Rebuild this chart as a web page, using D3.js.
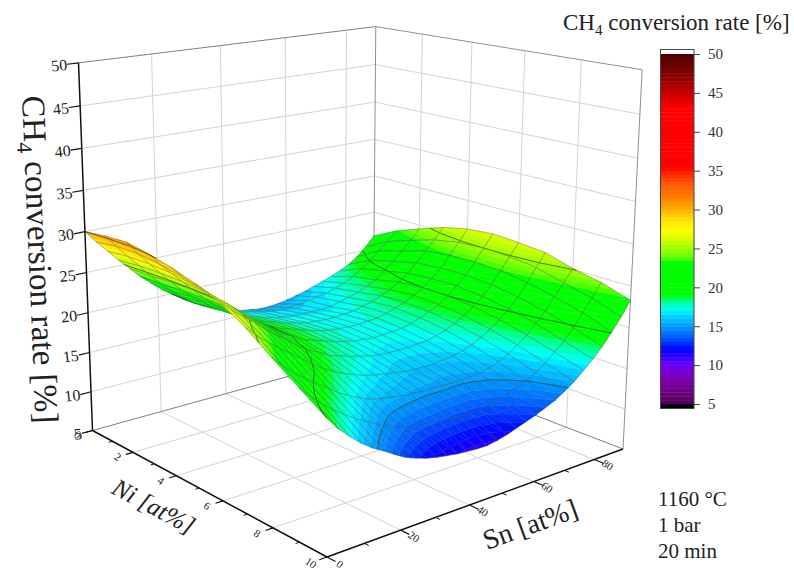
<!DOCTYPE html>
<html>
<head>
<meta charset="utf-8">
<script src="https://cdn.jsdelivr.net/npm/d3@7"></script>
<style>
body { margin: 0; background: #fff; }
text { font-family: "Liberation Serif", serif; fill: #222; }
</style>
</head>
<body>
<script>
// composition axis values
var niValues = [0, 1, 2, 3, 4, 5, 6, 7, 8, 9, 10];
var snValues = [0, 3, 6, 9, 12, 15, 18, 21, 24, 27, 30, 33, 36, 39, 42, 45, 48, 51, 54, 57, 60, 63, 66, 69, 72, 75, 78, 81, 84, 87, 90];

// CH4 conversion rate, one row per Ni value, one column per Sn value
var conversion = [
  [30.0, 28.5, 27.1, 25.7, 24.4, 23.1, 22.0, 20.9, 20.0, 19.1, 18.3, 17.6, 17.0, 16.5, 16.1, 15.7, 15.5, 15.3, 15.3, 15.4, 15.6, 15.9, 16.2, 16.6, 17.0, 17.4, 17.9, 18.5, 19.3, 20.4, 21.7],
  [30.4, 28.9, 27.4, 26.0, 24.5, 23.2, 22.0, 21.0, 20.0, 19.3, 18.6, 18.1, 17.6, 17.2, 16.9, 16.6, 16.4, 16.3, 16.3, 16.4, 16.6, 16.8, 17.0, 17.4, 17.8, 18.4, 19.2, 20.1, 21.1, 22.1, 23.3],
  [30.6, 29.0, 27.5, 26.1, 24.7, 23.4, 22.3, 21.3, 20.4, 19.7, 19.0, 18.4, 18.0, 17.6, 17.3, 17.0, 16.9, 16.9, 16.8, 16.8, 16.9, 17.2, 17.5, 17.9, 18.4, 19.0, 19.9, 20.9, 22.0, 23.2, 24.5],
  [30.2, 28.7, 27.4, 26.1, 24.8, 23.5, 22.4, 21.4, 20.5, 19.9, 19.2, 18.8, 18.4, 18.0, 17.7, 17.4, 17.3, 17.2, 17.2, 17.3, 17.4, 17.7, 18.0, 18.5, 19.0, 19.7, 20.6, 21.7, 23.0, 24.2, 25.6],
  [29.6, 28.2, 27.0, 25.9, 24.7, 23.5, 22.6, 21.5, 20.6, 20.0, 19.4, 19.0, 18.6, 18.2, 17.9, 17.6, 17.5, 17.4, 17.4, 17.5, 17.6, 17.9, 18.3, 18.7, 19.3, 20.0, 20.9, 22.0, 23.4, 24.8, 26.3],
  [28.8, 27.6, 26.5, 25.5, 24.4, 23.3, 22.4, 21.4, 20.5, 19.9, 19.2, 18.8, 18.4, 18.0, 17.7, 17.4, 17.3, 17.2, 17.2, 17.3, 17.4, 17.7, 18.1, 18.6, 19.2, 20.0, 21.0, 22.1, 23.5, 25.0, 26.6],
  [27.8, 26.6, 25.6, 24.6, 23.5, 22.5, 21.6, 20.6, 19.8, 19.2, 18.5, 18.1, 17.7, 17.4, 17.1, 16.9, 16.8, 16.8, 16.8, 16.9, 17.0, 17.3, 17.7, 18.2, 18.9, 19.7, 20.7, 21.9, 23.4, 24.9, 26.4],
  [26.1, 24.9, 23.8, 22.8, 21.9, 21.0, 20.0, 19.2, 18.5, 17.9, 17.4, 17.0, 16.7, 16.5, 16.3, 16.1, 16.0, 16.0, 16.0, 16.1, 16.3, 16.6, 17.0, 17.6, 18.3, 19.2, 20.2, 21.4, 22.9, 24.5, 26.1],
  [24.0, 22.7, 21.6, 20.6, 19.7, 18.9, 18.0, 17.3, 16.7, 16.2, 15.9, 15.7, 15.5, 15.4, 15.3, 15.3, 15.3, 15.2, 15.2, 15.3, 15.4, 15.7, 16.1, 16.7, 17.5, 18.4, 19.5, 20.7, 22.2, 23.6, 25.1],
  [22.0, 20.7, 19.5, 18.5, 17.6, 16.8, 16.1, 15.4, 14.8, 14.3, 13.9, 13.7, 13.6, 13.5, 13.4, 13.3, 13.3, 13.3, 13.5, 13.8, 14.2, 14.6, 15.0, 15.7, 16.5, 17.5, 18.5, 19.8, 21.3, 22.8, 24.4],
  [20.0, 18.5, 17.3, 16.2, 15.3, 14.6, 13.8, 13.1, 12.6, 12.2, 11.9, 11.7, 11.5, 11.4, 11.3, 11.3, 11.5, 11.8, 12.2, 12.6, 13.0, 13.5, 14.0, 14.7, 15.5, 16.5, 17.5, 18.7, 20.1, 21.6, 23.3]
];

var niTicks = [0, 2, 4, 6, 8, 10];
var niMinorTicks = [1, 3, 5, 7, 9];
var snTicks = [0, 20, 40, 60, 80];
var snMinorTicks = [10, 30, 50, 70];
var zTicks = [5, 10, 15, 20, 25, 30, 35, 40, 45, 50];
var contourLevels = [10, 15, 20, 25, 30];

// colour map
var colorStops = [5, 6.4, 8.6, 10.3, 12, 13.7, 14.8, 16.3, 17.1, 18.4, 19, 23.4, 23.6, 24.4, 26, 27.4, 28.7, 30, 31.5, 33, 34, 35.5, 43, 45, 47.5, 50];
var colorValues = ["#50005f", "#6a0078", "#8000c0", "#6000ff", "#0000ff", "#0060ff", "#0090ff", "#00d0ff", "#00ffff", "#00ff80", "#00ff00", "#00ff00", "#40ff00", "#80ff00", "#c8ff00", "#ffff00", "#ffe000", "#ffb000", "#ff8000", "#ff6000", "#ff4000", "#ff0000", "#ff0000", "#c80000", "#800000", "#500000"];

var width = 794, height = 570, bandStep = 0.5;

var svg = d3.select("body").append("svg")
    .attr("width", width)
    .attr("height", height);

var niScale = d3.scaleLinear().domain([0, 10]).range([0, 1]);
var snScale = d3.scaleLinear().domain([0, 90]).range([0, 1]);
var zScale = d3.scaleLinear().domain([5, 50]).range([0, 1]);
var color = d3.scaleLinear().domain(colorStops).range(colorValues);

function bandColor(lo) { return color(lo + bandStep / 2); }

// camera: floor corners on screen plus the vanishing point of the verticals
var p0 = [92.5, 430.5], p1 = [327, 557], p2 = [623, 449], p3 = [373, 353];
var vanish = [321, 6434], lift = -0.0577;

var dx1 = p1[0] - p2[0], dx2 = p3[0] - p2[0], sx = p0[0] - p1[0] + p2[0] - p3[0];
var dy1 = p1[1] - p2[1], dy2 = p3[1] - p2[1], sy = p0[1] - p1[1] + p2[1] - p3[1];
var den = dx1 * dy2 - dx2 * dy1;
var g = (sx * dy2 - dx2 * sy) / den, h = (dx1 * sy - sx * dy1) / den;
var a = p1[0] - p0[0] + g * p1[0], b = p3[0] - p0[0] + h * p3[0];
var d = p1[1] - p0[1] + g * p1[1], e = p3[1] - p0[1] + h * p3[1];

function project(ni, sn, z) {
  var u = niScale(ni), v = snScale(sn), t = zScale(z) * lift;
  var w = g * u + h * v + 1 + t;
  return [(a * u + b * v + p0[0] + t * vanish[0]) / w,
          (d * u + e * v + p0[1] + t * vanish[1]) / w];
}

var line3 = d3.line().x(function(p) { return p[0]; }).y(function(p) { return p[1]; });

function path3(pts, close) {
  return line3(pts.map(function(p) { return project(p[0], p[1], p[2]); })) + (close ? "Z" : "");
}

// walls and floor
var grid = svg.append("g").attr("fill", "none").attr("stroke", "#d4d4d4").attr("stroke-width", 1);

function gridLine(p, q, col) {
  grid.append("path")
      .attr("d", path3([p, q]))
      .attr("stroke", col || "#d4d4d4");
}

[20, 40, 60, 80].forEach(function(s) {
  gridLine([0, s, 5], [0, s, 50]);
  gridLine([0, s, 5], [10, s, 5]);
});
[2, 4, 6, 8].forEach(function(n) {
  gridLine([n, 90, 5], [n, 90, 50]);
  gridLine([n, 0, 5], [n, 90, 5]);
});
[10, 15, 20, 25, 30, 35, 40, 45].forEach(function(z) {
  gridLine([0, 0, z], [0, 90, z]);
  gridLine([0, 90, z], [10, 90, z]);
});
gridLine([0, 0, 50], [0, 90, 50], "#808080");
gridLine([0, 90, 50], [10, 90, 50], "#909090");
gridLine([0, 90, 5], [0, 90, 50], "#909090");
gridLine([10, 90, 5], [10, 90, 50], "#909090");
gridLine([0, 0, 5], [0, 90, 5], "#808080");
gridLine([0, 90, 5], [10, 90, 5], "#808080");

// clip a polygon to one side of a z level
function clipSide(poly, level, sign) {
  var out = [];
  poly.forEach(function(p, i) {
    var q = poly[(i + 1) % poly.length];
    var dp = sign * (p[2] - level), dq = sign * (q[2] - level);
    if (dp >= 0) out.push(p);
    if (dp * dq < 0) {
      var f = dp / (dp - dq);
      out.push([p[0] + f * (q[0] - p[0]), p[1] + f * (q[1] - p[1]), level]);
    }
  });
  return out;
}

// surface, far cells first
var surface = svg.append("g");

function drawTriangle(tri) {
  var zs = tri.map(function(p) { return p[2]; });
  var lo = Math.floor(d3.min(zs) / bandStep) * bandStep, hi = d3.max(zs);
  for (var l = lo; l < hi; l += bandStep) {
    var poly = clipSide(clipSide(tri, l, 1), l + bandStep, -1);
    if (poly.length < 3) continue;
    surface.append("path")
        .attr("d", path3(poly, true))
        .attr("fill", bandColor(l))
        .attr("stroke", bandColor(l))
        .attr("stroke-width", 0.4);
  }
}

function drawContours(tri) {
  contourLevels.forEach(function(level) {
    // nudge so grid values sitting exactly on a level still cross it
    var lv = level + 0.01, cut = [];
    tri.forEach(function(p, i) {
      var q = tri[(i + 1) % 3];
      if ((p[2] - lv) * (q[2] - lv) < 0) {
        var f = (lv - p[2]) / (q[2] - p[2]);
        cut.push([p[0] + f * (q[0] - p[0]), p[1] + f * (q[1] - p[1]), lv]);
      }
    });
    if (cut.length == 2) {
      surface.append("path")
          .attr("d", path3(cut))
          .attr("fill", "none")
          .attr("stroke", "#1c3a1c")
          .attr("stroke-opacity", 0.85)
          .attr("stroke-width", 0.8);
    }
  });
}

for (var i = 0; i < niValues.length - 1; i++) {
  for (var j = snValues.length - 2; j >= 0; j--) {
    var c00 = [niValues[i], snValues[j], conversion[i][j]];
    var c10 = [niValues[i + 1], snValues[j], conversion[i + 1][j]];
    var c11 = [niValues[i + 1], snValues[j + 1], conversion[i + 1][j + 1]];
    var c01 = [niValues[i], snValues[j + 1], conversion[i][j + 1]];
    var t1 = [c00, c10, c11], t2 = [c00, c11, c01];
    drawTriangle(t2);
    drawTriangle(t1);
    surface.append("path")
        .attr("d", path3([c00, c10, c11, c01], true))
        .attr("fill", "none")
        .attr("stroke", "#505050")
        .attr("stroke-opacity", 0.6)
        .attr("stroke-width", 0.6);
    drawContours(t2);
    drawContours(t1);
  }
}

// 3D axes
var axes = svg.append("g").attr("fill", "none").attr("stroke", "#111");

function axisLine(p, q, w) {
  axes.append("path").attr("d", path3([p, q])).attr("stroke-width", w);
}

axisLine([0, 0, 5], [0, 0, 50], 1.5);
axisLine([0, 0, 5], [10, 0, 5], 1.5);
axisLine([10, 0, 5], [10, 90, 5], 1.5);

niTicks.forEach(function(n) { axisLine([n, 0, 5], [n, -2, 5], 1.2); });
niMinorTicks.forEach(function(n) { axisLine([n, 0, 5], [n, -1, 5], 1); });
snTicks.forEach(function(s) { axisLine([10, s, 5], [10.3, s, 5], 1.2); });
snMinorTicks.forEach(function(s) { axisLine([10, s, 5], [10.15, s, 5], 1); });
zTicks.forEach(function(z) { axisLine([0, 0, z], [0, -3, z], 1.2); });

function label(pos, txt, size, rot, anchor) {
  return svg.append("text")
      .attr("transform", "translate(" + pos[0] + "," + pos[1] + ") rotate(" + rot + ")")
      .attr("text-anchor", anchor || "middle")
      .attr("dy", "0.35em")
      .attr("font-size", size)
      .text(txt);
}

zTicks.forEach(function(z) {
  label(project(0, -3, z), z, 16, -6, "end");
});
niTicks.forEach(function(n) {
  label(project(n, -4.2, 5), n, 11, 34);
});
snTicks.forEach(function(s) {
  label(project(10.46, s, 5), s, 11, 34);
});

label([154, 506], "Ni [at%]", 25, 28).attr("font-style", "italic");
label([530, 524], "Sn [at%]", 28, -20);

// z axis title, subscript kept in the same text element
var zTitle = svg.append("text")
    .attr("transform", "translate(22,96) rotate(87.6)")
    .attr("font-size", 33.3);
zTitle.append("tspan").text("CH");
zTitle.append("tspan").attr("dy", 7).attr("font-size", 22).text("4");
zTitle.append("tspan").attr("dy", -7).text(" conversion rate [%]");

// legend
var barX = 660.5, barW = 33.5;
var legendScale = d3.scaleLinear().domain([5, 50]).range([404, 54]);
var legend = svg.append("g");

legend.append("rect")
    .attr("x", barX).attr("y", 49.5).attr("width", barW).attr("height", 359)
    .attr("fill", "#fff");
legend.append("rect")
    .attr("x", barX).attr("y", legendScale(5)).attr("width", barW).attr("height", 4.5)
    .attr("fill", "#000");

legend.selectAll("rect.band")
    .data(d3.range(5, 50, bandStep))
  .enter().append("rect")
    .attr("class", "band")
    .attr("x", barX)
    .attr("y", function(l) { return legendScale(l + bandStep); })
    .attr("width", barW)
    .attr("height", function(l) { return legendScale(l) - legendScale(l + bandStep) + 0.4; })
    .attr("fill", bandColor);

legend.append("rect")
    .attr("x", barX).attr("y", 49.5).attr("width", barW).attr("height", 359)
    .attr("fill", "none")
    .attr("stroke", "#444");

var legendAxis = d3.axisRight(legendScale)
    .tickValues(zTicks)
    .tickSize(6)
    .tickPadding(8);

var legendG = legend.append("g")
    .attr("transform", "translate(" + (barX + barW) + ",0)")
    .call(legendAxis);
legendG.select(".domain").remove();
legendG.selectAll("line").attr("stroke", "#444");
legendG.selectAll("text")
    .attr("font-family", "Liberation Serif")
    .attr("font-size", 15)
    .style("fill", "#333");

var legendTitle = svg.append("text")
    .attr("x", 563)
    .attr("y", 30)
    .attr("font-size", 23);
legendTitle.append("tspan").text("CH");
legendTitle.append("tspan").attr("dy", 5).attr("font-size", 15).text("4");
legendTitle.append("tspan").attr("dy", -5).text(" conversion rate [%]");

// conditions
var conditions = ["1160 °C", "1 bar", "20 min"];
svg.selectAll("text.cond")
    .data(conditions)
  .enter().append("text")
    .attr("class", "cond")
    .attr("x", 658)
    .attr("y", function(c, k) { return 506 + k * 26; })
    .attr("font-size", 21)
    .text(function(c) { return c; });
</script>
</body>
</html>
